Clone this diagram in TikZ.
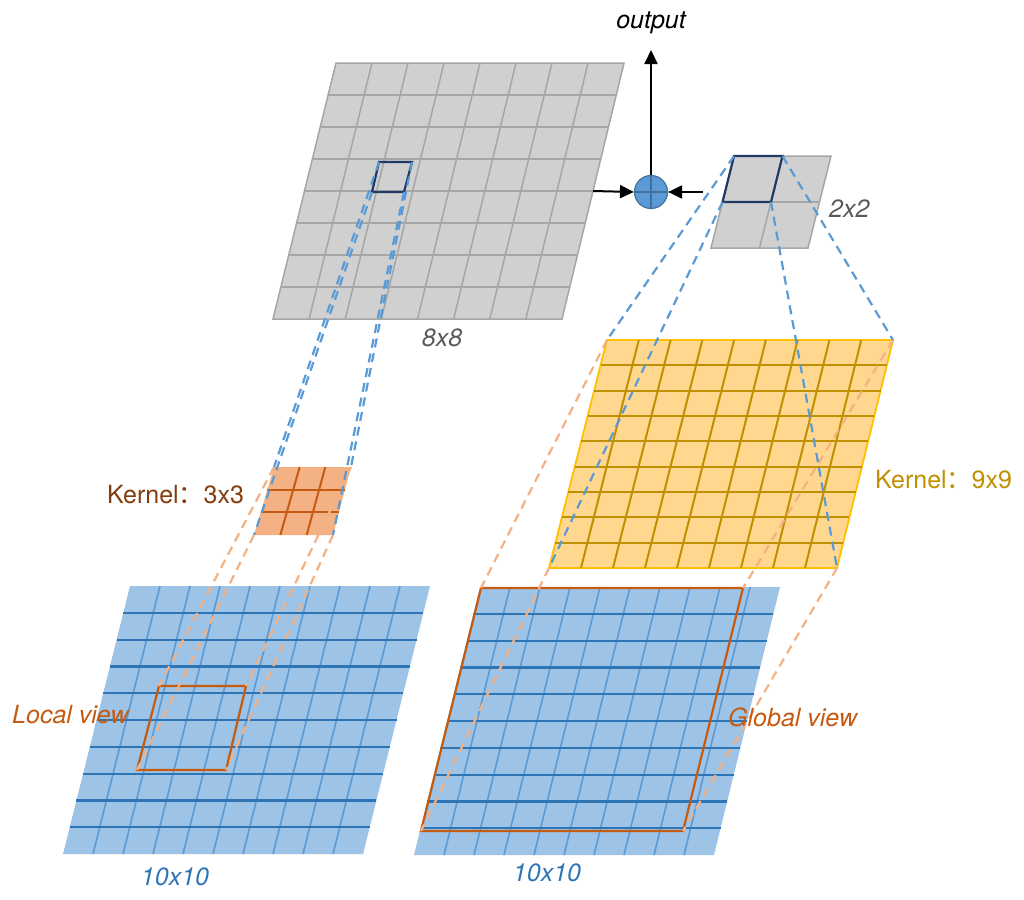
\documentclass[tikz,border=0pt]{standalone}
\usepackage{fontspec}
\setmainfont{TeX Gyre Heros}
\newfontfamily\cjk{Noto Sans CJK SC}
\usetikzlibrary{calc,arrows.meta}

\definecolor{gfill}{HTML}{D0D0D0}
\definecolor{gline}{HTML}{A6A6A6}
\definecolor{navy}{HTML}{1F3864}
\definecolor{bdash}{HTML}{5B9BD5}
\definecolor{odash}{HTML}{F4B183}
\definecolor{kfill}{HTML}{F4B183}
\definecolor{kline}{HTML}{C55A11}
\definecolor{yfill}{HTML}{FFD78F}
\definecolor{yborder}{HTML}{FFC000}
\definecolor{yline}{HTML}{BF9000}
\definecolor{bfill}{HTML}{9DC3E6}
\definecolor{bhline}{HTML}{2E75B6}
\definecolor{bvline}{HTML}{5B9BD5}
\definecolor{viewc}{HTML}{C55A11}
\definecolor{knbrown}{HTML}{843C0C}
\definecolor{labgray}{HTML}{595959}
\definecolor{sumfill}{HTML}{5B9BD5}
\definecolor{sumline}{HTML}{41719C}

\newcommand{\quadgrid}[6]{%
  \pgfmathtruncatemacro{\qgnx}{#2-1}%
  \pgfmathtruncatemacro{\qgny}{#3-1}%
  \fill[#4] (#1a) -- (#1b) -- (#1c) -- (#1d) -- cycle;
  \foreach \i in {1,...,\qgnx} \draw[#6] ($(#1a)!\i/#2!(#1b)$) -- ($(#1d)!\i/#2!(#1c)$);
  \foreach \i in {1,...,\qgny} \draw[#5] ($(#1a)!\i/#3!(#1d)$) -- ($(#1b)!\i/#3!(#1c)$);
}

\tikzset{
  x=1pt, y=-1pt,
  lab/.style={inner sep=0pt, font=\fontsize{25}{30}\selectfont},
  bdashed/.style={draw=bdash, line width=2.2pt, dash pattern=on 9pt off 6pt},
  odashed/.style={draw=odash, line width=2.2pt, dash pattern=on 9pt off 6pt},
  arr/.style={line width=2pt, -{Triangle[length=14pt,width=13pt]}},
  viewbox/.style={draw=viewc, line width=2.2pt, line join=miter},
  selbox/.style={draw=navy, line width=2.2pt, line join=miter},
}

\begin{document}
\begin{tikzpicture}
\useasboundingbox (0,0) rectangle (1024,899);

% ---- corner coordinates (a=TL, b=TR, c=BR, d=BL)
\coordinate (Ga) at (336,63);  \coordinate (Gb) at (624,63);
\coordinate (Gc) at (562,319); \coordinate (Gd) at (273,319);
\coordinate (Ha) at (734,156); \coordinate (Hb) at (831,156);
\coordinate (Hc) at (808,248); \coordinate (Hd) at (711,248);
\coordinate (Ka) at (274,467); \coordinate (Kb) at (351,467);
\coordinate (Kc) at (333,535); \coordinate (Kd) at (254,535);
\coordinate (Na) at (607,340); \coordinate (Nb) at (893,340);
\coordinate (Nc) at (837,568); \coordinate (Nd) at (549,568);
\coordinate (La) at (130,586); \coordinate (Lb) at (430,586);
\coordinate (Lc) at (363,854); \coordinate (Ld) at (63,854);
\coordinate (Ra) at (480,587); \coordinate (Rb) at (780,587);
\coordinate (Rc) at (714,855); \coordinate (Rd) at (414,855);

% ---- grids
\quadgrid{G}{8}{8}{fill=gfill, draw=gline, line width=1.5pt}{draw=gline, line width=1.5pt}{draw=gline, line width=1.5pt}
\quadgrid{H}{2}{2}{fill=gfill, draw=gline, line width=1.5pt}{draw=gline, line width=1.5pt}{draw=gline, line width=1.5pt}
\quadgrid{K}{3}{3}{fill=kfill}{draw=kline, line width=2pt}{draw=kline, line width=2pt}
\quadgrid{N}{9}{9}{fill=yfill, draw=yborder, line width=1.8pt}{draw=yline, line width=2pt}{draw=yline, line width=2pt}
\quadgrid{L}{10}{10}{fill=bfill}{draw=bhline, line width=2.2pt}{draw=bvline, line width=1.6pt}
\quadgrid{R}{10}{10}{fill=bfill}{draw=bhline, line width=2.2pt}{draw=bvline, line width=1.6pt}

% ---- selection squares
\coordinate (Sa) at (379,162); \coordinate (Sb) at (412,162);
\coordinate (Sc) at (404,192); \coordinate (Sd) at (372,192);
\draw[selbox] (Sa) -- (Sb) -- (Sc) -- (Sd) -- cycle;
\coordinate (Ta) at (Ha); \coordinate (Tb) at ($(Ha)!0.5!(Hb)$);
\coordinate (Tc) at ($(Ha)!0.5!(Hc)$); \coordinate (Td) at ($(Ha)!0.5!(Hd)$);
\draw[selbox] (Ta) -- (Tb) -- (Tc) -- (Td) -- cycle;

% ---- view rectangles
\coordinate (Va) at (159,686); \coordinate (Vb) at (246,686);
\coordinate (Vc) at (226,770); \coordinate (Vd) at (137,770);
\draw[viewbox] (Va) -- (Vb) -- (Vc) -- (Vd) -- cycle;
\coordinate (Wa) at (481,588); \coordinate (Wb) at (743,588);
\coordinate (Wc) at (683,831); \coordinate (Wd) at (421,831);
\draw[viewbox] (Wa) -- (Wb) -- (Wc) -- (Wd) -- cycle;

% ---- dashed projection lines
\foreach \p in {a,b,c,d} {
  \draw[bdashed] (S\p) -- (K\p);
  \draw[bdashed] (T\p) -- (N\p);
  \draw[odashed] (K\p) -- (V\p);
  \draw[odashed] (N\p) -- (W\p);
}

% ---- sum node and arrows
\node[circle, draw=sumline, fill=sumfill, line width=1.2pt, minimum size=33pt, inner sep=0pt] (sum) at (651,192) {};
\draw[sumline, line width=1.2pt] (sum.north) -- (sum.south);
\draw[sumline, line width=1.2pt] (sum.west) -- (sum.east);
\coordinate (gout) at ($(Gb)!0.5!(Gc)$);
\coordinate (hin) at (703,192);
\coordinate (otip) at (651,50);
\draw[arr] (gout) -- (sum.west);
\draw[arr] (hin) -- (sum.east);
\draw[arr] (sum.north) -- (otip);

% ---- labels
\node[lab] (output) at (651,23) {\itshape output};
\node[lab, text=labgray] (l8) at (442,338) {\itshape 8x8};
\node[lab, text=labgray, anchor=west] (l2) at (829,209) {\itshape 2x2};
\node[lab, text=knbrown, anchor=west] (k3) at (107,495) {Kernel{\cjk ：}3x3};
\node[lab, text=yline, anchor=west] (k9) at (875,480) {Kernel{\cjk ：}9x9};
\node[lab, text=viewc, anchor=west] (lv) at (12,715) {\itshape Local view};
\node[lab, text=viewc, anchor=west] (gv) at (728,717) {\itshape Global view};
\node[lab, text=bhline] (t1) at (175,877) {\itshape 10x10};
\node[lab, text=bhline] (t2) at (547,873) {\itshape 10x10};
\end{tikzpicture}
\end{document}
